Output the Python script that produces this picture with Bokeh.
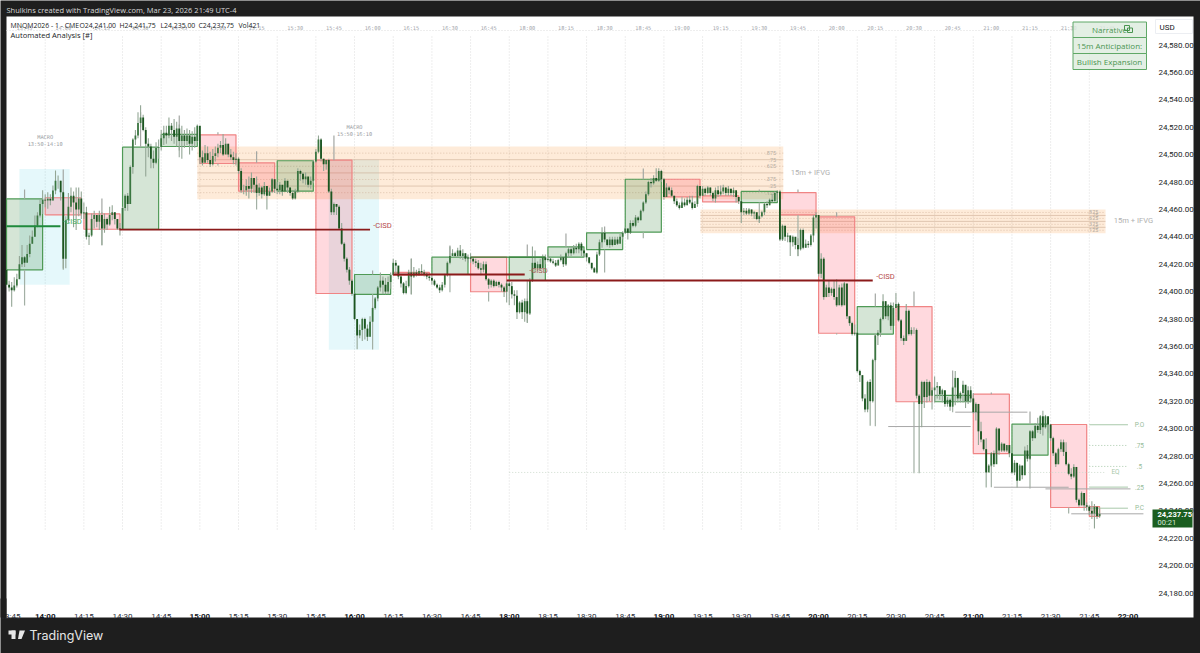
from bokeh.plotting import figure
from bokeh.models import Range1d, LinearAxis, FixedTicker, NumeralTickFormatter
from bokeh.core.properties import value
from bokeh.embed import file_html
from bokeh.resources import INLINE

# ---------- 1-minute bars; the x value is minutes after 14:00 with the 17:00-18:00 break removed
first_minute = -15
first_open = 24416
close_ = [
 405,403,401,404.5,409,420,425,421,427.5,435,440,448,455.6,464,467,
 466.5,467.7,466.5,473.8,481,481,472.6,424,452,462,470,465,460,468,457,
 458,440,441,453,456,451,456,446,453,449,456,458,453,446,445.5,
 461,470,464,491,511,514,523,527,518,508,506,497,494,505,505.5,
 512,516,514,521,518,513,519,510,514,510,514,508,513,510,521,
 498,494,501,496,493,499,501,505,507,500,508,500,498,496,497,
 488,474,474,477,475,483,478,472,476,471,477,470,473,482,475,
 474,478,473,481,476,472,468,473,488,486,482,484,478,481,495,
 502,511,497,493,496,473,458,464,462,446,435,424,416,408,398.5,
 380,368,372,380,373,367,378,388,395,403,408,405,400,407,412,
 421,419,411,406,399,404,414,411,414,412,415,414,413,411,410,
 408,405,403,401,405,412,421,426,428,426,430,426,428,424,425,
 424,422,421,417,416,420,409,405,408,404,407,405,403,400,406,
 404,398,397,385,392,385,393,384,408,421,417,420,417,425,423,
 424,422,421,419,423,425,420,428,431,428,432,431,435,430,428,
 425,421,417,414,427,436,443,438,434,438,434,438,435,440,443,
 446,443,450,448,454,452,459,465,471,480,479,483,481,488,482,
 469,476,474,470,466,463,461,465,463,467,465,461,464,477,470,
 475,472,476,472,468,474,471,473,476,472,475,472,474,469,466,
 458,459,457,460,457,458,453,455,458,464,463,467,466,472,473,
 438,448,440,441,436,440,434,431,445,432,435,434,441,454,456,
 413,424,396,403,399,402,396,390,403,390,406,382,377,369,370,
 342,339,322,314,334,320,350,368,370,380,393,382,390,375,388,
 391,379,366,364,386,369,372,372,324,318,334,323,334,324,328,
 330,331,325,328,318,321,316,330,337,322,326,332,320,328,322,
 312,318,298,292,285,268,273,282,274,300,284,289,284,288,282,
 268,275,262,273,266,284,278,298,293,302,299,309,301,309,303,
 293,282,274,285,290,283,274,267,265,272,248,244,253,244,243,
 240,238,243,236,237.75,
]
high_ = [
 416,408,407,410.5,413,426,434,426,434,441,444.6,455.6,458,467.5,474,
 471,472.6,471,477.5,488.4,484.8,481,473,455,472,476,473,476,476,473,
 465,462,443,457,459,456,459,458,457,454,462,463,458,452,450,
 462,471,472,492,512,518,531,536,529,520,512,508,503,509,511,
 518,521,521,527,523,526,524,522,521,518,519,518,517,520,522,
 515,503,507,506,502,504,506,508,510,515,512,508,504,502,501,
 498,490,478,482,484,487,483,484,479,477,480,477,476,483,482,
 480,480,476,483,481,476,474,475,490,489,487,487,483,484,496,
 504,514,512,497,496,497,475,465,464,463,450,436,425,418,409,
 399,380,376,381,381,376,382,389,396,404,414,411,410,411,414,
 424,423,417,412,407,408,416,424,418,416,417,420,416,414,412,
 413,409,406,405,407,413,422,433,431,429,432,434,431,428,427,
 428,425,424,423,421,422,422,410,409,409,408,408,406,404,408,
 409,407,401,401,393,394,395,395,410,433,430,422,424,427,427,
 427,425,424,423,424,427,425,429,433,433,434,435,436,436,431,
 428,425,421,418,429,438,447,444,438,440,440,440,440,442,444,
 447,446,452,452,456,455,460,466,473,481,483,485,490,490,489,
 483,479,477,476,470,468,465,466,468,469,470,470,466,478,477,
 477,476,477,476,473,476,477,475,478,476,477,475,476,472,469,
 466,461,461,461,460,459,458,456,459,465,466,468,471,473,474,
 474,449,448,443,441,441,437,439,446,446,438,437,442,456,458,
 452,428,425,405,408,403,408,409,405,406,407,388,382,378,376,
 370,343,339,325,335,336,351,369,372,381,398,393,391,392,392,
 399,392,380,368,391,387,374,374,373,325,335,335,336,335,330,
 338,334,329,329,326,323,322,331,342,336,327,335,323,331,331,
 326,319,307,305,292,293,274,283,284,301,299,290,289,288,288,
 282,277,267,274,273,287,288,299,299,304,308,310,313,310,308,
 303,294,283,286,292,292,290,275,271,274,268,249,254,253,246,
 244,247,245,243,241.75,
]
low_ = [
 403,400,389,400,403,411,418,418,425,425,435,440,447,454,456.7,
 461.6,460.4,463,466.5,471,475,466.5,416,417,450,458,447,445,455,453,
 453,438,434,440,446,447,445,434,443,445,448,452,449,445,441,
 445,459,459,464,486,507,512,520,517,484,498,490,490,493,497,
 503,507,508,512,510,508,506,503,497,505,507,500,503,505,509,
 493,492,495,494,491,492,495,498,501,499,501,498,496,493,492,
 486,472,471,470,468,472,472,469,470,468,470,460,470,472,472,
 471,471,470,473,472,470,467,471,472,481,479,478,476,475,479,
 494,501,495,488,489,472,456,456,456,445,434,422,414,405,397,
 379,358,366,364,365,364,367,378,387,393,400,398,398,398,402,
 413,413,409,403,398,398,403,398,410,411,412,412,411,409,408,
 405,404,402,399,400,403,411,420,426,425,425,424,423,422,421,
 421,420,418,416,412,414,408,402,403,403,404,403,400,396,392,
 390,395,390,380,384,380,378,377,383,407,414,415,415,418,420,
 422,421,420,418,420,422,418,419,425,426,427,428,428,426,425,
 422,420,416,414,413,426,432,436,433,432,433,434,434,436,438,
 442,438,442,447,447,450,452,458,464,470,476,478,480,480,480,
 467,471,471,469,464,462,460,461,462,463,464,460,461,462,468,
 470,470,471,470,466,465,469,470,471,470,470,470,469,465,464,
 450,456,456,456,455,453,452,450,454,456,461,463,465,466,466,
 437,437,437,436,426,433,431,426,430,431,432,432,433,436,446,
 411,410,394,397,396,397,394,389,392,389,391,380,375,368,368,
 341,334,320,312,312,302,319,349,361,367,379,380,379,372,383,
 388,378,364,361,364,368,368,369,322,267.4,301,315,319,320,314,
 319,322,321,319,316,316,313,318,317,319,319,319,315,318,319,
 311,306,288,290,284,257,270,272,272,281,281,283,283,283,279,
 267,266,257,262,263,266,276,277,291,293,297,296,295,300,297,
 291,280,272,274,283,280,273,266,263,264,246,243,244,240,240,
 237,234,227,234,235,
]

# ---------- 15-minute candles drawn as boxes (start minute, top, bottom, bullish?) and their wicks
box_start = [-15,0,15,30,45,60,75,90,105,120,135,150,165,180,195,210,225,240,255,270,285,300,315,330,345,360,375,390,405]
box_top = [24467.7,24468.5,24456.8,24505.4,24514.7,24514.4,24494,24495.5,24495.9,24412.5,24414,24425.1,24425.1,24425.1,24432.7,24442.9,24482,24482,24469.9,24473.1,24472.3,24454.6,24389.1,24389.1,24324.2,24325.1,24303.2,24303,24243]
box_bottom = [24415.9,24456,24445.5,24445.5,24505.9,24493.5,24473.3,24473.3,24398.6,24398,24412,24412.5,24399.9,24408.1,24425.1,24430.7,24443.4,24469.2,24465.5,24465,24456,24369.6,24369,24319.6,24319.6,24281.8,24280.6,24242.4,24236]
box_bull = [1,0,0,1,1,0,0,1,0,1,0,1,0,1,1,1,1,0,0,1,0,0,1,0,1,0,1,0,0]
box_len = [14]*28 + [4]
wick_high = [24474.5,24489.1,24468,24531,24528.5,24516.4,24502.5,24495.7,24514,24415.4,24424.2,24433.6,24425.1,24434.4,24442.4,24447.5,24489.9,24482,24477.4,24474.5,24474.5,24458,24398.6,24400,24342.4,24326.3,24312.5,24303,24243]
wick_low = [24389.9,24416.9,24433.6,24445.5,24498.1,24492,24460,24467.2,24398.6,24357.7,24397.9,24399.6,24392.8,24377.4,24419,24413.9,24439,24461.6,24465.5,24450.4,24425.8,24368.7,24301.7,24267.4,24312,24257.2,24256.3,24238,24236]

# ---------- session windows
macro_start = [-10,110]
macro_end = [9.5,129.5]
macro_top = [24489.5,24496.5]
macro_bottom = [24405,24357.5]
macro_label_minute = [0,120]
macro_title_price = [24512.8,24520.1]
macro_range_price = [24508,24515]
macro_title = ["MACRO","MACRO"]
macro_range = ["13:50-14:10","15:50-16:10"]

# ---------- inversion gaps
zone_start = [59,254.2]
zone_end = [286.3,411.3]
zone_top = [24505.9,24459.9]
zone_bottom = [24467.4,24442.6]
zone_label_end = [283.5,408.5]
fib_solid = [.25,.5,.75]
fib_dotted = [.125,.375,.625,.875]
fib_text = [".125",".25",".375",".625",".75",".875"]
fib_text_value = [.125,.25,.375,.625,.75,.875]

# ---------- -CISD lines
cisd_start = [-15,28.8,135,179]
cisd_end = [5.9,126,186,321]
cisd_price = [24447.7,24445.3,24412.5,24408.1]
cisd_colour = ["#1f8a3c","#8b1a1a","#8b1a1a","#8b1a1a"]

# ---------- dealing-range levels and old 15-minute extremes
range_prices = [24302.8,24287.7,24272.4,24257.3,24241.9]
range_names = ["P.O",".75",".5",".25","P.C"]
range_dash = ["solid","1 2","1 2","solid","solid"]
eq_price = 24268
old_start = [327,353,368,388,398]
old_end = [359,381,397,421,426]
old_price = [24301.5,24312,24257.2,24256,24237.8]

price_ticks = list(range(24180,24600,20))
time_ticks = list(range(-15,436,15))
time_names = ["13:45","14:00","14:15","14:30","14:45","15:00","15:15","15:30","15:45","16:00","16:15","16:30","16:45",
              "18:00","18:15","18:30","18:45","19:00","19:15","19:30","19:45","20:00","20:15","20:30","20:45","21:00","21:15","21:30","21:45","22:00","22:15"]
bold_names = {"14:00","15:00","16:00","18:00","19:00","20:00","21:00","22:00"}
price_now = 24237.75
legend_fields = ["MNQM2026 - 1 - CME","O24,241.00","H24,241.75","L24,235.00","C24,237.75","Vol421"]

# ---------- page geometry of the picture
X0, PX_MIN = 44.7, 2.578
Y0, PX_PT = 44.5, 1.37
mx = lambda x: (x - X0) / PX_MIN
pr = lambda y: 24580 - (y - Y0) / PX_PT
W, H = 1200, 653
DARK = "#1e1e1e"

p = figure(width=W, height=H, output_backend="svg", toolbar_location=None,
           x_range=Range1d(mx(0), mx(W)), y_range=Range1d(pr(H), pr(0)),
           min_border=0, x_axis_type=None, y_axis_type=None, background_fill_color=DARK,
           border_fill_color=DARK, outline_line_color=None)
p.grid.visible = False

def page_box(l, r, t, b, colour, level="glyph"):
    p.quad(left=[mx(l)], right=[mx(r)], top=[pr(t)], bottom=[pr(b)], fill_color=colour, line_alpha=0, level=level)

def page_text(x, y, text, font, size, colour, style="normal", align="left"):
    p.text([mx(x)], [pr(y)], text=[text], text_font=value(font), text_font_size=size, text_font_style=style,
           text_color=colour, text_align=align, text_baseline="middle", level="overlay")

# white chart panel
page_box(6, 1193, 16, 617, "white")

# time grid and top time labels
grid_m = time_ticks[1:-2]
p.segment(grid_m, [pr(36)]*len(grid_m), grid_m, [pr(530)]*len(grid_m), line_color="#dcdcdc", line_width=1, line_dash="1 2")
p.segment([mx(6)], [pr(30)], [mx(1072)], [pr(30)], line_color="#dddddd", line_width=1, line_dash="1 2")
p.text([m + 7 for m in time_ticks[:-2]], [pr(27)]*(len(time_ticks)-2), text=time_names[:-2], text_font=value("DejaVu Sans Mono"),
       text_font_size="5.3px", text_color="#a5a8ae", text_align="center", text_baseline="middle")

# macro windows
p.quad(left=macro_start, right=macro_end, top=macro_top, bottom=macro_bottom, fill_color="#00bcd4", fill_alpha=0.1, line_alpha=0)
p.text(macro_label_minute, macro_title_price, text=macro_title, text_font=value("DejaVu Sans Mono"), text_font_size="5.3px",
       text_color="#9a9da3", text_align="center", text_baseline="middle")
p.text(macro_label_minute, macro_range_price, text=macro_range, text_font=value("DejaVu Sans Mono"), text_font_size="5.3px",
       text_color="#9a9da3", text_align="center", text_baseline="middle")

# inversion gaps with their levels
p.quad(left=zone_start, right=zone_end, top=zone_top, bottom=zone_bottom, fill_color="#f57c00", fill_alpha=0.15, line_alpha=0)
for s, e, t, b, lab in zip(zone_start, zone_end, zone_top, zone_bottom, zone_label_end):
    ys = [b + (t - b) * k for k in fib_solid]
    p.segment([s]*3, ys, [e]*3, ys, line_color="#c9a88f", line_alpha=0.55, line_width=1)
    ys = [b + (t - b) * k for k in fib_dotted]
    p.segment([s]*4, ys, [e]*4, ys, line_color="#c9a88f", line_alpha=0.6, line_width=1, line_dash="1 2")
    p.text([lab]*len(fib_text), [b + (t - b) * k for k in fib_text_value], text=fib_text, text_font=value("Roboto"),
           text_font_size="5.5px", text_color="#b7aea3", text_align="right", text_baseline="middle")

# 15-minute boxes
box_end = [s + n for s, n in zip(box_start, box_len)]
for flag, fill, line, alpha in [(1, "#2e7d32", "#4f9a56", 0.2), (0, "#ff1f3d", "#f08484", 0.17)]:
    idx = [i for i, f in enumerate(box_bull) if f == flag]
    p.quad(left=[box_start[i] for i in idx], right=[box_end[i] for i in idx],
           top=[box_top[i] for i in idx], bottom=[box_bottom[i] for i in idx],
           fill_color=fill, fill_alpha=alpha, line_color=line, line_width=1.2)

# 15-minute wicks
box_mid = [s + 7 for s in box_start]
p.segment(box_mid, box_top, box_mid, wick_high, line_color="#a3a7a3", line_width=1.2)
p.segment(box_mid, box_bottom, box_mid, wick_low, line_color="#a3b0a5", line_width=1.2)

# old extremes and range levels
p.segment(old_start, old_price, old_end, old_price, line_color="#a8a8a8", line_width=1)
p.segment([180], [eq_price], [411.3], [eq_price], line_color="#cfdccf", line_width=1, line_dash="1 2")
for pv, d in zip(range_prices, range_dash):
    p.segment([405], [pv], [420], [pv], line_color="#a8c9aa", line_width=1, line_dash=d)
p.text([mx(1139)]*5, range_prices, text=range_names, text_font=value("Roboto"), text_font_size="6.5px",
       text_color="#97bd99", text_align="center", text_baseline="middle")
p.text([mx(1115)], [eq_price], text=["EQ"], text_font=value("Roboto"), text_font_size="6.5px",
       text_color="#a9c9aa", text_align="center", text_baseline="middle")

# 1-minute bars
minutes = [first_minute + i for i in range(len(close_))]
close_p = [24000 + v for v in close_]
high_p = [24000 + v for v in high_]
low_p = [24000 + v for v in low_]
open_p = [first_open] + close_p[:-1]
p.segment(minutes, high_p, minutes, low_p, line_color="#93a695", line_width=1.1)
bar_top = [max(a, b) for a, b in zip(open_p, close_p)]
bar_bot = [min(a, b) for a, b in zip(open_p, close_p)]
up = [i for i in range(len(minutes)) if close_p[i] >= open_p[i]]
dn = [i for i in range(len(minutes)) if close_p[i] < open_p[i]]
p.vbar([minutes[i] for i in up], top=[bar_top[i] for i in up], bottom=[bar_bot[i] for i in up], width=0.68, fill_color="#3a7640", line_alpha=0)
p.vbar([minutes[i] for i in dn], top=[bar_top[i] for i in dn], bottom=[bar_bot[i] for i in dn], width=0.72, fill_color="#1b5520", line_alpha=0)

# -CISD lines
p.segment(cisd_start, cisd_price, cisd_end, cisd_price, line_color=cisd_colour, line_width=1.8)
p.segment([165], [24425.2], [194], [24425.2], line_color="#2e7d32", line_width=1.4)
cisd_x = [mx(72), mx(382), mx(538), mx(885)]
cisd_y = [pr(221), pr(225), pr(270), pr(275.5)]
p.text(cisd_x, cisd_y, text=["-CISD"]*4, text_font=value("Roboto"), text_font_size="7.6px",
       text_color=["#3fae62", "#b5494c", "#a9605a", "#b5494c"], text_align="center", text_baseline="middle")
p.text([mx(810), mx(1133)], [pr(172), pr(219.5)], text=["15m + IFVG"]*2, text_font=value("Roboto"), text_font_size="7.6px",
       text_color="#b0b0b0", text_align="center", text_baseline="middle")

# axes (fixed inside the full-canvas frame)
ya = LinearAxis(ticker=FixedTicker(ticks=price_ticks), formatter=NumeralTickFormatter(format="0,0.00"), fixed_location=mx(1152))
ya.axis_line_color = None; ya.major_tick_line_color = None; ya.minor_tick_line_color = None
ya.major_label_text_font = "Roboto"; ya.major_label_text_font_size = "8px"; ya.major_label_text_color = "#1a1d26"
ya.major_label_standoff = 0
p.add_layout(ya, "right")
overrides = {m: n for m, n in zip(time_ticks, time_names)}
plain = [m for m, n in zip(time_ticks, time_names) if n not in bold_names and n != "22:15"]
bold = [m for m, n in zip(time_ticks, time_names) if n in bold_names]
for ticks, weight, colour in [(plain, "normal", "#2a2e39"), (bold, "bold", "#131722")]:
    xa = LinearAxis(ticker=FixedTicker(ticks=ticks), major_label_overrides=overrides, fixed_location=pr(598))
    xa.axis_line_color = None; xa.major_tick_line_color = None; xa.minor_tick_line_color = None
    xa.major_label_text_font = "Roboto"; xa.major_label_text_font_size = "8px"; xa.major_label_text_color = colour
    xa.major_label_text_font_style = weight
    xa.major_label_standoff = 7
    p.add_layout(xa, "below")

# dark frame left of the panel hides the clipped first time label
page_box(0, 6, 598, 617, DARK, "overlay")

# narrative table
tab_l, tab_r = mx(1072.5), mx(1146)
tab_y = [21.5, 37, 53, 69]
p.quad(left=[tab_l]*3, right=[tab_r]*3, top=[pr(y) for y in tab_y[:3]], bottom=[pr(y) for y in tab_y[1:]],
       fill_color="#dcebdd", fill_alpha=0.8, line_color="#5fa866", line_width=1)
p.text([mx(1109)]*3, [pr(29), pr(45), pr(61)], text=["Narrative", "15m Anticipation:", "Bullish Expansion"],
       text_font=value("Open Sans"), text_font_size="8px", text_color="#4a9550",
       text_align="center", text_baseline="middle")
p.quad(left=[mx(1124), mx(1127)], right=[mx(1129), mx(1132)], top=[pr(25), pr(27.5)], bottom=[pr(30), pr(32)],
       fill_alpha=0, line_color="#4a9550", line_width=1)

# USD box
p.quad(left=[mx(1155)], right=[mx(1192)], top=[pr(19)], bottom=[pr(33)], fill_color="white", line_color="#eceef2", level="overlay")
page_text(1159, 26.5, "USD", "Roboto", "8px", "#131722")

# last-price tag
page_box(1152, 1192, 509, 527, "#1b5e20", "overlay")
page_text(1157, 513.5, f"{price_now:,.2f}", "Roboto", "7.6px", "white", "bold")
page_text(1157, 521.5, "00:21", "Roboto", "7.5px", "#d7e6d8")

# legend lines
for x, t in zip([10, 79, 119, 160, 198, 238], legend_fields):
    page_text(x, 24.5, t, "Open Sans", "6.9px", "#1a1d26")
page_text(10, 34.5, "Automated Analysis [#]", "Open Sans", "7.6px", "#1a1d26")

# header and footer on the dark frame
page_text(6, 9, "Shulkins created with TradingView.com, Mar 23, 2026 21:49 UTC-4", "Open Sans", "7.5px", "#d8d8d8")
page_text(29, 634.5, "TradingView", "Inter", "12.5px", "#e6e6e6")
page_box(8, 15, 630, 634, "#e6e6e6", "overlay")
page_box(11, 15, 630, 638.5, "#e6e6e6", "overlay")
p.patch([mx(v) for v in [19, 24.5, 21, 17.5]], [pr(v) for v in [630, 630, 638.5, 638.5]], fill_color="#e6e6e6", line_alpha=0, level="overlay")

assert len(close_) == len(high_) == len(low_), (len(close_), len(high_), len(low_))
open("out.html", "w").write(file_html(p, INLINE))
